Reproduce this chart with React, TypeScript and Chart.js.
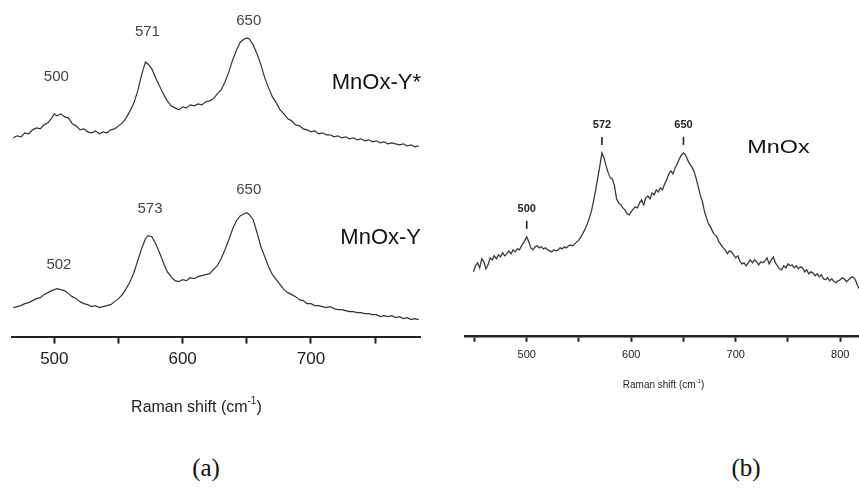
import React, { useEffect, useRef } from "react";
import { Chart, registerables } from "chart.js";

Chart.register(...registerables);

// ---- Spectrum (a): MnOx-Y* (upper trace) ----
const shiftsYStar = [
  468, 471, 474, 477, 480, 483, 486, 489, 492, 495, 498, 500, 502, 505, 508, 511, 514, 517, 520, 523,
  526, 529, 532, 535, 538, 541, 544, 547, 550, 553, 556, 559, 562, 565, 568, 571, 573, 576, 579, 582,
  585, 588, 591, 594, 597, 600, 603, 606, 609, 612, 615, 618, 621, 624, 627, 630, 633, 636, 639, 642,
  645, 648, 650, 652, 655, 658, 661, 664, 667, 670, 673, 676, 679, 682, 685, 688, 691, 694, 697, 700,
  703, 706, 709, 712, 715, 718, 721, 724, 727, 730, 733, 736, 739, 742, 745, 748, 751, 754, 757, 760,
  763, 766, 769, 772, 775, 778, 781, 784,
];
const intensityYStar = [
  199, 201, 200, 204, 203, 207, 209, 208, 212, 214, 219, 223, 221, 223, 220, 219, 213, 211, 207, 208,
  205, 204, 206, 203, 205, 204, 207, 208, 211, 214, 219, 226, 234, 246, 262, 275, 273, 268, 259, 251,
  243, 236, 231, 229, 227, 230, 229, 232, 231, 233, 232, 235, 236, 238, 243, 247, 255, 265, 277, 287,
  295, 298, 299, 298, 292, 283, 272, 259, 249, 240, 234, 227, 223, 218, 216, 212, 211, 208, 207, 205,
  206, 203, 204, 202, 202, 200, 201, 199, 200, 198, 199, 197, 198, 196, 197, 195, 196, 194, 195, 193,
  194, 193, 192, 193, 191, 192, 190, 191,
];

// ---- Spectrum (a): MnOx-Y (lower trace) ----
const shiftsY = [
  468, 471, 474, 477, 480, 483, 486, 489, 492, 495, 498, 502, 505, 508, 511, 514, 517, 520, 523, 526,
  529, 532, 535, 538, 541, 544, 547, 550, 553, 556, 559, 562, 565, 568, 571, 573, 576, 579, 582, 585,
  588, 591, 594, 597, 600, 603, 606, 609, 612, 615, 618, 621, 624, 627, 630, 633, 636, 639, 642, 645,
  648, 650, 652, 655, 658, 661, 664, 667, 670, 673, 676, 679, 682, 685, 688, 691, 694, 697, 700, 703,
  706, 709, 712, 715, 718, 721, 724, 727, 730, 733, 736, 739, 742, 745, 748, 751, 754, 757, 760, 763,
  766, 769, 772, 775, 778, 781, 784,
];
const intensityY = [
  29, 30, 31, 33, 34, 36, 38, 39, 42, 44, 46, 48, 47, 46, 43, 40, 38, 35, 33, 32,
  30, 31, 29, 30, 31, 32, 35, 38, 42, 48, 55, 64, 76, 88, 98, 101, 100, 93, 84, 74,
  65, 60, 56, 55, 57, 56, 59, 58, 60, 61, 62, 63, 67, 71, 78, 87, 97, 108, 116, 121,
  123, 124, 122, 117, 104, 90, 80, 70, 62, 57, 52, 47, 44, 42, 40, 37, 36, 33, 33, 31,
  31, 30, 29, 30, 28, 27, 27, 26, 25, 25, 24, 24, 23, 23, 22, 22, 20, 21, 20, 21,
  19, 20, 18, 19, 17, 18, 17,
];

// ---- Spectrum (b): MnOx ----
const shiftsMnOx = [
  449, 451, 453, 455, 457, 459, 461, 463, 465, 467, 469, 471, 473, 475, 477, 479, 481, 483, 485, 487,
  489, 491, 493, 495, 497, 499, 500, 502, 504, 506, 508, 510, 512, 514, 516, 518, 520, 522, 524, 526,
  528, 530, 532, 534, 536, 538, 540, 542, 544, 546, 548, 550, 552, 554, 556, 558, 560, 562, 564, 566,
  568, 570, 572, 574, 576, 578, 580, 582, 584, 586, 588, 590, 592, 594, 596, 598, 600, 602, 604, 606,
  608, 610, 612, 614, 616, 618, 620, 622, 624, 626, 628, 630, 632, 634, 636, 638, 640, 642, 644, 646,
  648, 650, 652, 654, 656, 658, 660, 662, 664, 666, 668, 670, 672, 674, 676, 678, 680, 682, 684, 686,
  688, 690, 692, 694, 696, 698, 700, 702, 704, 706, 708, 710, 712, 714, 716, 718, 720, 722, 724, 726,
  728, 730, 732, 734, 736, 738, 740, 742, 744, 746, 748, 750, 752, 754, 756, 758, 760, 762, 764, 766,
  768, 770, 772, 774, 776, 778, 780, 782, 784, 786, 788, 790, 792, 794, 796, 798, 800, 802, 804, 806,
  808, 810, 812, 814, 816, 818,
];
const intensityMnOx = [
  64, 70, 73, 68, 77, 74, 67, 71, 78, 76, 80, 77, 81, 79, 83, 80, 82, 85, 82, 86,
  84, 87, 86, 90, 93, 97, 99, 94, 88, 86, 89, 90, 88, 89, 87, 88, 86, 85, 84, 86,
  85, 86, 88, 87, 89, 88, 90, 91, 90, 92, 94, 96, 99, 103, 107, 112, 118, 125, 135, 146,
  158, 170, 183, 178, 170, 163, 158, 157, 150, 137, 133, 131, 128, 126, 122, 121, 124, 127, 129, 128,
  133, 136, 131, 138, 140, 137, 143, 141, 146, 144, 148, 146, 152, 156, 162, 165, 162, 168, 172, 177,
  181, 183, 181, 176, 172, 169, 165, 158, 150, 141, 135, 125, 118, 112, 109, 104, 101, 99, 94, 91,
  88, 86, 82, 85, 84, 81, 78, 80, 75, 72, 73, 70, 73, 76, 73, 76, 74, 71, 74, 73,
  75, 78, 72, 76, 79, 73, 70, 67, 66, 70, 68, 72, 70, 71, 68, 70, 67, 69, 68, 64,
  66, 62, 64, 63, 60, 62, 59, 61, 57, 56, 58, 55, 57, 54, 53, 55, 56, 58, 57, 54,
  56, 58, 59, 57, 52, 47,
];

// Peak annotations (band positions, cm-1)
const peaksYStar = [500, 571, 650];
const peaksY = [502, 573, 650];
const peaksMnOx = [500, 572, 650];

// Vertical lift of each band label above its peak (px)
const liftYStar = [37, 30, 17];
const liftY = [24, 27, 23];

const SANS = '"Liberation Sans", Arial, Helvetica, sans-serif';

type Pt = { x: number; y: number };
const toPoints = (xs: number[], ys: number[]): Pt[] => xs.map((x, i) => ({ x, y: ys[i] }));

function intensityAt(xs: number[], ys: number[], shift: number): number {
  const i = xs.indexOf(shift);
  return i >= 0 ? ys[i] : 0;
}

function drawAxisTitle(ctx: CanvasRenderingContext2D, cx: number, cy: number, size: number, color: string) {
  const base = `${size}px ${SANS}`;
  const sup = `${Math.round(size * 0.62)}px ${SANS}`;
  const a = "Raman shift (cm";
  const s = "-1";
  const b = ")";
  ctx.save();
  ctx.fillStyle = color;
  ctx.textBaseline = "middle";
  ctx.textAlign = "left";
  ctx.font = base;
  const wa = ctx.measureText(a).width;
  const wb = ctx.measureText(b).width;
  ctx.font = sup;
  const ws = ctx.measureText(s).width;
  let x = cx - (wa + ws + wb) / 2;
  ctx.font = base;
  ctx.fillText(a, x, cy);
  x += wa;
  ctx.font = sup;
  ctx.fillText(s, x, cy - size * 0.38);
  x += ws;
  ctx.font = base;
  ctx.fillText(b, x, cy);
  ctx.restore();
}

// Annotations for panel (a): band numbers, sample names, axis title
const panelAPlugin = {
  id: "panelA",
  afterDatasetsDraw(chart: any) {
    const { ctx, chartArea, scales } = chart;
    const xs = scales.x;
    const ys = scales.y;
    ctx.save();
    ctx.fillStyle = "#444";
    ctx.font = `15px ${SANS}`;
    ctx.textAlign = "center";
    ctx.textBaseline = "middle";
    peaksYStar.forEach((p, i) => {
      const y = ys.getPixelForValue(intensityAt(shiftsYStar, intensityYStar, p)) - liftYStar[i];
      ctx.fillText(String(p), xs.getPixelForValue(p) + 2, y);
    });
    peaksY.forEach((p, i) => {
      const y = ys.getPixelForValue(intensityAt(shiftsY, intensityY, p)) - liftY[i];
      ctx.fillText(String(p), xs.getPixelForValue(p) + 2, y);
    });
    ctx.fillStyle = "#111";
    ctx.font = `22px ${SANS}`;
    ctx.textAlign = "right";
    ctx.fillText("MnOx-Y*", chartArea.right + 1, ys.getPixelForValue(254));
    ctx.fillText("MnOx-Y", chartArea.right + 1, ys.getPixelForValue(99));
    ctx.restore();
    drawAxisTitle(ctx, chartArea.left + chartArea.width * 0.452, chartArea.bottom + 71, 16, "#222");
  },
};

// Annotations for panel (b): band numbers with tick markers, sample name, axis title
const panelBPlugin = {
  id: "panelB",
  afterDatasetsDraw(chart: any) {
    const { ctx, chartArea, scales } = chart;
    const xs = scales.x;
    const ys = scales.y;
    ctx.save();
    ctx.fillStyle = "#222";
    ctx.strokeStyle = "#222";
    ctx.lineWidth = 1.6;
    ctx.font = `bold 11px ${SANS}`;
    ctx.textAlign = "center";
    ctx.textBaseline = "middle";
    peaksMnOx.forEach((p) => {
      const px = xs.getPixelForValue(p);
      const py = ys.getPixelForValue(intensityAt(shiftsMnOx, intensityMnOx, p));
      ctx.beginPath();
      ctx.moveTo(px, py - 8);
      ctx.lineTo(px, py - 16);
      ctx.stroke();
      ctx.fillText(String(p), px, py - 28);
    });
    ctx.fillStyle = "#111";
    ctx.font = `18px ${SANS}`;
    ctx.translate(xs.getPixelForValue(741), ys.getPixelForValue(188));
    ctx.scale(1.3, 1);
    ctx.fillText("MnOx", 0, 0);
    ctx.restore();
    drawAxisTitle(ctx, (chartArea.left + chartArea.right) / 2 + 2, chartArea.bottom + 49, 10, "#222");
  },
};

function makeXAxis(min: number, max: number, fontSize: number, tickLen: number, pad: number, borderW: number) {
  return {
    type: "linear" as const,
    min,
    max,
    ticks: {
      stepSize: 50,
      includeBounds: false,
      autoSkip: false,
      maxRotation: 0,
      padding: pad,
      color: "#222",
      font: { family: SANS, size: fontSize },
      callback: (v: any) => (Math.round(Number(v)) % 100 === 0 ? String(Math.round(Number(v))) : ""),
    },
    grid: {
      drawOnChartArea: false,
      drawTicks: true,
      tickLength: tickLen,
      tickWidth: 2,
      tickColor: "#222",
    },
    border: { display: true, color: "#222", width: borderW },
  };
}

function PanelA() {
  const ref = useRef<HTMLCanvasElement | null>(null);
  useEffect(() => {
    if (!ref.current) return;
    const chart = new Chart(ref.current, {
      type: "line",
      data: {
        datasets: [
          {
            label: "MnOx-Y*",
            data: toPoints(shiftsYStar, intensityYStar),
            borderColor: "#333",
            borderWidth: 1.2,
            pointRadius: 0,
            fill: false,
            tension: 0,
          },
          {
            label: "MnOx-Y",
            data: toPoints(shiftsY, intensityY),
            borderColor: "#333",
            borderWidth: 1.2,
            pointRadius: 0,
            fill: false,
            tension: 0,
          },
        ],
      },
      options: {
        animation: false,
        responsive: false,
        maintainAspectRatio: false,
        layout: { padding: { left: 12, right: 10, top: 0, bottom: 44 } },
        plugins: { legend: { display: false }, tooltip: { enabled: false } },
        scales: {
          x: makeXAxis(467, 785, 17, 7, 6, 2),
          y: { display: false, min: 0, max: 337 },
        },
      },
      plugins: [panelAPlugin],
    } as any);
    return () => chart.destroy();
  }, []);
  return <canvas ref={ref} width={430} height={420} style={{ position: "absolute", left: 0, top: 0 }} />;
}

function PanelB() {
  const ref = useRef<HTMLCanvasElement | null>(null);
  useEffect(() => {
    if (!ref.current) return;
    const chart = new Chart(ref.current, {
      type: "line",
      data: {
        datasets: [
          {
            label: "MnOx",
            data: toPoints(shiftsMnOx, intensityMnOx),
            borderColor: "#3a3a3a",
            borderWidth: 1.3,
            pointRadius: 0,
            fill: false,
            tension: 0,
          },
        ],
      },
      options: {
        animation: false,
        responsive: false,
        maintainAspectRatio: false,
        layout: { padding: { left: 0, right: 0, top: 0, bottom: 31 } },
        plugins: { legend: { display: false }, tooltip: { enabled: false } },
        scales: {
          x: makeXAxis(440, 818, 11, 6, 7, 2.5),
          y: { display: false, min: 0, max: 336 },
        },
      },
      plugins: [panelBPlugin],
    } as any);
    return () => chart.destroy();
  }, []);
  return <canvas ref={ref} width={395} height={400} style={{ position: "absolute", left: 464, top: 0 }} />;
}

const captionStyle: React.CSSProperties = {
  position: "absolute",
  top: 468,
  transform: "translate(-50%, -50%)",
  fontFamily: '"Liberation Serif", "Times New Roman", serif',
  fontSize: 25,
  lineHeight: "30px",
  color: "#111",
};

export default function App() {
  return (
    <div style={{ position: "fixed", left: 0, top: 0, width: 859, height: 492, background: "#fff", overflow: "hidden" }}>
      <PanelA />
      <PanelB />
      <div style={{ ...captionStyle, left: 206 }}>(a)</div>
      <div style={{ ...captionStyle, left: 746 }}>(b)</div>
    </div>
  );
}
